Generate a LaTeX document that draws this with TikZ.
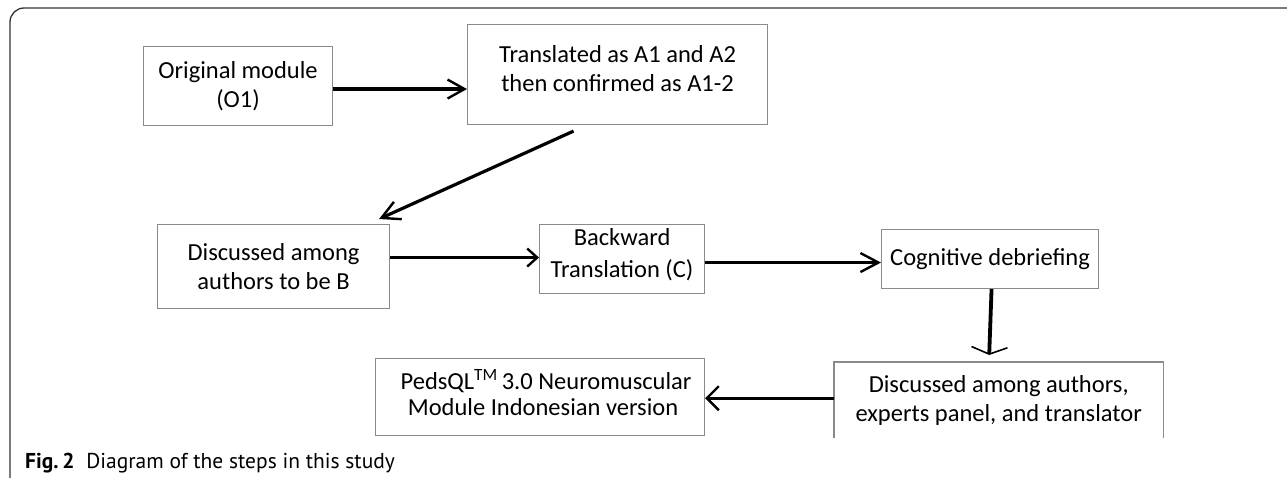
\documentclass[tikz,border=0pt]{standalone}
\usepackage{fontspec}
\setmainfont{Carlito}
\newfontfamily\capfont{PT Sans}
\usetikzlibrary{arrows.meta,calc}
\definecolor{boxgray}{HTML}{8A8A8A}
\definecolor{framegray}{HTML}{333333}
\tikzset{
  stepbox/.style={draw=boxgray, line width=1.1pt, align=center, inner sep=0pt,
    anchor=north west, font=\fontsize{24.5}{29}\selectfont},
  arr/.style={line width=3.2pt, -{Straight Barb[length=#1, width=19pt, line width=2.4pt]}},
  arr/.default=17pt
}
\begin{document}
\begin{tikzpicture}[x=1pt,y=-1pt]
\useasboundingbox (0,0) rectangle (1287,478);
% frame
\draw[framegray, line width=1.3pt, rounded corners=14pt] (10,478) -- (10,8) -- (1287,8);
% boxes
\node[stepbox, minimum width=189pt, minimum height=79pt] (O1) at (143,46) {Original module\\(O1)};
\node[stepbox, minimum width=300pt, minimum height=100pt] (A) at (467,24) {Translated as A1 and A2\\then confirmed as A1-2\\[-16pt]\mbox{}};
\node[stepbox, minimum width=232pt, minimum height=84pt] (B) at (157,224) {Discussed among\\authors to be B};
\node[stepbox, minimum width=165pt, minimum height=69pt, font=\fontsize{24.5}{32}\selectfont] (C) at (539,224) {Backward\\Translation (C)\\[-20pt]\mbox{}};
\node[stepbox, minimum width=217pt, minimum height=59pt] (Cog) at (881,229) {Cognitive debriefing};
\node[minimum width=329pt, minimum height=76pt, inner sep=0pt, anchor=north west, align=center, font=\fontsize{24.5}{29}\selectfont] (F) at (834,362) {Discussed among authors,\\experts panel, and translator};
\draw[boxgray, line width=1.1pt] (F.south west) -- (F.north west) -- (F.north east) -- (F.south east);
\node[stepbox, minimum width=329pt, minimum height=77pt, font=\fontsize{24.5}{26}\selectfont] (P) at (375,358) {\hspace*{12pt}PedsQL\textsuperscript{TM}\,3.0 Neuromuscular\\\hspace*{6pt}Module Indonesian version\\[-16pt]\mbox{}};
% caption
\node[anchor=west, inner sep=0pt, font=\capfont\fontsize{21.5}{25}\selectfont] (cap) at (25,463) {\textbf{Fig.\,2}\hspace{0.55em}Diagram of the steps in this study};
% connectors
\coordinate (o1a) at ([yshift=-3pt]O1.east);
\draw[arr] (o1a) -- (o1a -| A.west);
\coordinate (ab1) at ([shift={(-44,6)}]A.south);
\coordinate (ab2) at ([shift={(-11,-5)}]B.north east);
\draw[arr=18pt] (ab1) -- (ab2);
\coordinate (bc) at ([yshift=9pt]B.east);
\draw[line width=3.2pt, -{Straight Barb[length=10pt, width=18pt, line width=2.4pt]}] (bc) -- (bc -| C.west);
\coordinate (cc) at ([yshift=-3.5pt]C.east);
\draw[arr=18pt] (cc) -- (cc -| Cog.west);
\coordinate (cf1) at ([xshift=1.5pt]Cog.south);
\coordinate (cf2) at ([shift={(-9.5,-7)}]F.north);
\draw[line width=3.8pt, -{Straight Barb[length=7pt, width=36pt, line width=1.6pt]}] (cf1) -- (cf2);
\coordinate (fp) at ([yshift=2pt]F.west);
\draw[line width=3.2pt, -{Straight Barb[length=12pt, width=24pt, line width=2.4pt]}] (fp) -- (fp -| P.east);
\end{tikzpicture}
\end{document}
